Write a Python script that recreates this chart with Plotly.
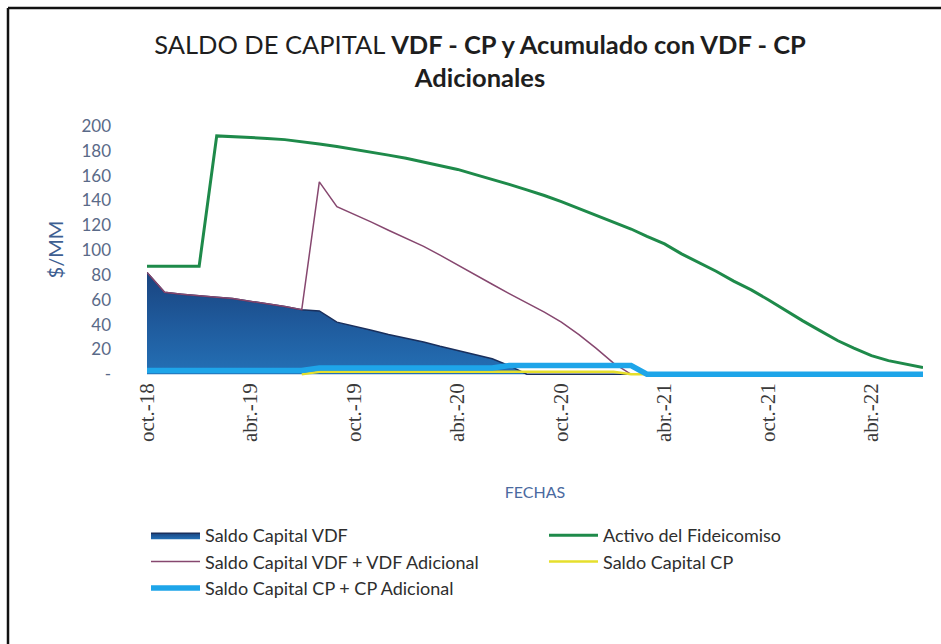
import pandas as pd
import plotly.graph_objects as go

# ---------------- data ----------------
fechas = pd.date_range("2018-10-01", periods=46, freq="MS")

saldo_vdf = [82, 66, 64.5, 63, 62, 61, 59, 57, 54.5, 52, 51, 42, 39, 35.5, 32, 29, 26, 22.5,
             19, 16, 12.5, 7, 0, 0, 0, 0, 0, 0, 0, 0, 0, 0, 0, 0, 0, 0, 0, 0, 0, 0,
             0, 0, 0, 0, 0, 0]

activo_fideicomiso = [87, 87, 87, 87, 192, 191.5, 191, 190, 189, 187.5, 185.5, 183.5, 181, 179,
                      176.5, 174, 171, 168, 165, 161, 157, 153, 148.5, 144, 139, 133.5, 128,
                      122.5, 117, 111, 105, 97, 90, 83, 75, 68, 60, 51, 43, 35, 27, 21, 15,
                      11, 8, 5.5]

saldo_vdf_adicional = [82, 66, 64.5, 63, 62, 61, 59, 57, 54.5, 52, 155, 135, 129, 122.5, 116,
                       109.5, 103, 96, 88, 80, 72.5, 65, 57.5, 50, 42, 32, 21, 9, 0, 0, 0, 0,
                       0, 0, 0, 0, 0, 0, 0, 0, 0, 0, 0, 0, 0, 0]

saldo_cp = [None, None, None, None, None, None, None, None, None, 0, 2, 2, 2, 2, 2, 2, 2, 2,
            2, 2, 2, 2, 2, 2, 2, 2, 2, 2, 0, 0, 0, 0, 0, 0, 0, 0, 0, 0, 0, 0, 0, 0, 0, 0,
            0, 0]

saldo_cp_adicional = [3, 3, 3, 3, 3, 3, 3, 3, 3, 3, 5, 5, 5, 5, 5, 5, 5, 5, 5, 5, 5, 7, 7, 7,
                      7, 7, 7, 7, 7, 0, 0, 0, 0, 0, 0, 0, 0, 0, 0, 0, 0, 0, 0, 0, 0, 0]

tick_fechas = ["2018-10-01", "2019-04-01", "2019-10-01", "2020-04-01",
               "2020-10-01", "2021-04-01", "2021-10-01", "2022-04-01"]
tick_textos = ["oct.-18", "abr.-19", "oct.-19", "abr.-20",
               "oct.-20", "abr.-21", "oct.-21", "abr.-22"]

y_vals = [0, 20, 40, 60, 80, 100, 120, 140, 160, 180, 200]
y_text = ["-", "20", "40", "60", "80", "100", "120", "140", "160", "180", "200"]

# ---------------- figure ----------------
fig = go.Figure()

fig.add_trace(go.Scatter(
    x=fechas, y=saldo_vdf, name="Saldo Capital VDF", mode="lines",
    fill="tozeroy",
    fillgradient=dict(type="vertical",
                      colorscale=[[0, "#2470b5"], [0.5, "#1f5a9c"], [1, "#19447f"]]),
    line=dict(color="#1a2f5c", width=1.5), legend="legend"))

fig.add_trace(go.Scatter(
    x=fechas, y=activo_fideicomiso, name="Activo del Fideicomiso", mode="lines",
    line=dict(color="#1e8a4a", width=3), legend="legend2"))

fig.add_trace(go.Scatter(
    x=fechas, y=saldo_vdf_adicional, name="Saldo Capital VDF + VDF Adicional", mode="lines",
    line=dict(color="#86476f", width=1.5), legend="legend"))

fig.add_trace(go.Scatter(
    x=fechas, y=saldo_cp, name="Saldo Capital CP", mode="lines",
    line=dict(color="#e6df2c", width=2.5), legend="legend2"))

fig.add_trace(go.Scatter(
    x=fechas, y=saldo_cp_adicional, name="Saldo Capital CP + CP Adicional", mode="lines",
    line=dict(color="#1ea5e9", width=5.5), legend="legend"))

W, H = 941, 644
L, R, T, B = 147, 18, 121, 266
pw = W - L - R
ph = H - T - B

def px_x(px):
    return (px - L) / pw

def px_y(py):
    return (H - B - py) / ph

legend_font = dict(family="Lato, sans-serif", size=18, color="#2e2e2e")

fig.update_layout(
    width=W, height=H,
    margin=dict(l=L, r=R, t=T, b=B),
    paper_bgcolor="white", plot_bgcolor="white",
    font=dict(family="Lato, 'Open Sans', sans-serif", color="#333333"),
    title=dict(
        text="SALDO DE CAPITAL <b>VDF - CP y Acumulado con VDF - CP<br>Adicionales</b>",
        x=480 / W, xanchor="center", y=1 - 54 / H, yanchor="top",
        font=dict(family="Lato, sans-serif", size=25.5, color="#1e1e1e")),
    xaxis=dict(
        type="date", range=[fechas[0], fechas[-1]],
        tickvals=tick_fechas, ticktext=tick_textos, tickangle=-90,
        tickfont=dict(family="Liberation Serif, DejaVu Serif, serif", size=21, color="#3a3a3a"),
        showgrid=False, zeroline=False, showline=False, ticks="",
        title=dict(text="FECHAS", standoff=45,
                   font=dict(family="Lato, sans-serif", size=16, color="#4a6aa0"))),
    yaxis=dict(
        range=[-3, 204], tickvals=y_vals, ticktext=y_text,
        tickfont=dict(family="Lato, sans-serif", size=17, color="#5a6a88"),
        showgrid=False, zeroline=False, showline=False, ticks="",
        ticklabelstandoff=35,
        title=dict(text="$/MM", standoff=12,
                   font=dict(family="Lato, sans-serif", size=20, color="#3e5f92"))),
    legend=dict(x=px_x(146), xanchor="left", y=px_y(517), yanchor="top",
                orientation="v", bgcolor="rgba(0,0,0,0)",
                font=legend_font, itemwidth=49),
    legend2=dict(x=px_x(544), xanchor="left", y=px_y(517), yanchor="top",
                 orientation="v", bgcolor="rgba(0,0,0,0)",
                 font=legend_font, itemwidth=49),
    showlegend=True,
)

# page frame (scanned border)
fig.add_shape(type="line", xref="paper", yref="paper",
              x0=px_x(8), x1=px_x(941), y0=px_y(8), y1=px_y(8),
              line=dict(color="#111111", width=2.5))
fig.add_shape(type="line", xref="paper", yref="paper",
              x0=px_x(8), x1=px_x(8), y0=px_y(8), y1=px_y(644),
              line=dict(color="#111111", width=2.5))

fig.write_html("out.html")
